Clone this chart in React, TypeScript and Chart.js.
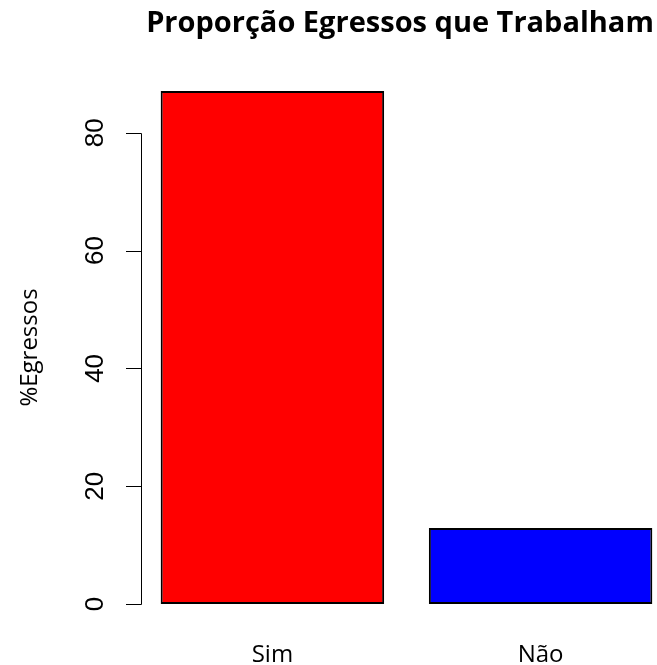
import React, { useEffect, useRef } from "react";
import { Chart, registerables } from "chart.js";

Chart.register(...registerables);

const categories = ["Sim", "Não"];
const values = [87.1, 12.9];
const barColors = ["#FF0000", "#0000FF"];
const yTicks = [0, 20, 40, 60, 80];
const titleText = "Proporção Egressos que Trabalham";
const yTitleText = "%Egressos";

// R barplot geometry: width 1, space 0.2
const BAR_W = 1;
const SPACE = 0.2;
const centers = categories.map((_, i) => SPACE + BAR_W / 2 + i * (BAR_W + SPACE));

const W = 657;
const H = 665;

const labelFont = '"Open Sans", "Noto Sans", sans-serif';
const tickFont = '"Liberation Sans Narrow", "Liberation Sans", Arial, sans-serif';

const rAxisPlugin = {
  id: "rAxis",
  afterDraw(chart: any) {
    const ctx = chart.ctx as CanvasRenderingContext2D;
    const ys = chart.scales.y;
    const xs = chart.scales.x;
    const area = chart.chartArea;
    ctx.save();
    ctx.fillStyle = "#000";
    ctx.strokeStyle = "#000";
    ctx.lineWidth = 1;

    // y axis line from first to last tick
    const axisX = Math.round(area.left) + 0.5;
    const top = ys.getPixelForValue(yTicks[yTicks.length - 1]);
    const bot = ys.getPixelForValue(yTicks[0]);
    ctx.beginPath();
    ctx.moveTo(axisX, Math.round(top) + 0.5);
    ctx.lineTo(axisX, Math.round(bot) + 0.5);
    yTicks.forEach((t) => {
      const py = Math.round(ys.getPixelForValue(t)) + 0.5;
      ctx.moveTo(axisX, py);
      ctx.lineTo(axisX - 15.5, py);
    });
    ctx.stroke();

    // y tick labels, rotated (parallel to axis)
    ctx.font = `26px ${tickFont}`;
    ctx.textAlign = "center";
    ctx.textBaseline = "alphabetic";
    yTicks.forEach((t) => {
      const py = ys.getPixelForValue(t);
      ctx.save();
      ctx.translate(axisX - 39, py);
      ctx.rotate(-Math.PI / 2);
      ctx.fillText(String(t), 0, 0);
      ctx.restore();
    });

    // y title
    ctx.font = `24px ${labelFont}`;
    ctx.save();
    ctx.translate(37, (area.top + area.bottom) / 2);
    ctx.rotate(-Math.PI / 2);
    ctx.fillText(yTitleText, 0, 0);
    ctx.restore();

    // category labels
    categories.forEach((c, i) => {
      ctx.fillText(c, xs.getPixelForValue(centers[i]), 661.5);
    });

    // title
    ctx.font = `bold 29px ${labelFont}`;
    ctx.fillText(titleText, 400, 31.5);

    ctx.restore();
  },
};

export default function App() {
  const ref = useRef<HTMLCanvasElement | null>(null);

  useEffect(() => {
    if (!ref.current) return;
    const ymax = Math.max(...values);
    const xmin = SPACE;
    const xmaxFull = centers[centers.length - 1] + BAR_W / 2;
    const xExt = (xmaxFull - xmin) * 0.04;
    const padLeft = 141;
    const plotRightFull = 672; // R plot region extends past the image
    const pxPerUnit = (plotRightFull - padLeft) / (xmaxFull - xmin + 2 * xExt);
    const xMinScale = xmin - xExt;
    const xMaxScale = xMinScale + (W - padLeft) / pxPerUnit;

    const chart = new Chart(ref.current, {
      type: "bar",
      data: {
        datasets: [
          {
            data: categories.map((_, i) => ({ x: centers[i], y: values[i] })),
            backgroundColor: barColors,
            borderColor: "#000",
            borderWidth: 2,
            borderSkipped: false,
            categoryPercentage: 1,
            barPercentage: BAR_W / (BAR_W + SPACE),
          } as any,
        ],
      },
      options: {
        animation: false,
        responsive: false,
        devicePixelRatio: 1,
        layout: { padding: { left: padLeft, top: 70.5, right: 0, bottom: 40.5 } },
        plugins: {
          legend: { display: false },
          tooltip: { enabled: false },
          title: { display: false },
        },
        scales: {
          x: {
            type: "linear",
            display: false,
            offset: false,
            min: xMinScale,
            max: xMaxScale,
            afterBuildTicks: (axis: any) => {
              axis.ticks = centers.map((v) => ({ value: v }));
            },
          },
          y: {
            type: "linear",
            display: false,
            min: -ymax * 0.04,
            max: ymax * 1.04,
          },
        },
      },
      plugins: [rAxisPlugin],
    });
    return () => chart.destroy();
  }, []);

  return (
    <div style={{ position: "fixed", left: 0, top: 0, width: W, height: H, background: "#fff" }}>
      <canvas ref={ref} width={W} height={H} />
    </div>
  );
}
